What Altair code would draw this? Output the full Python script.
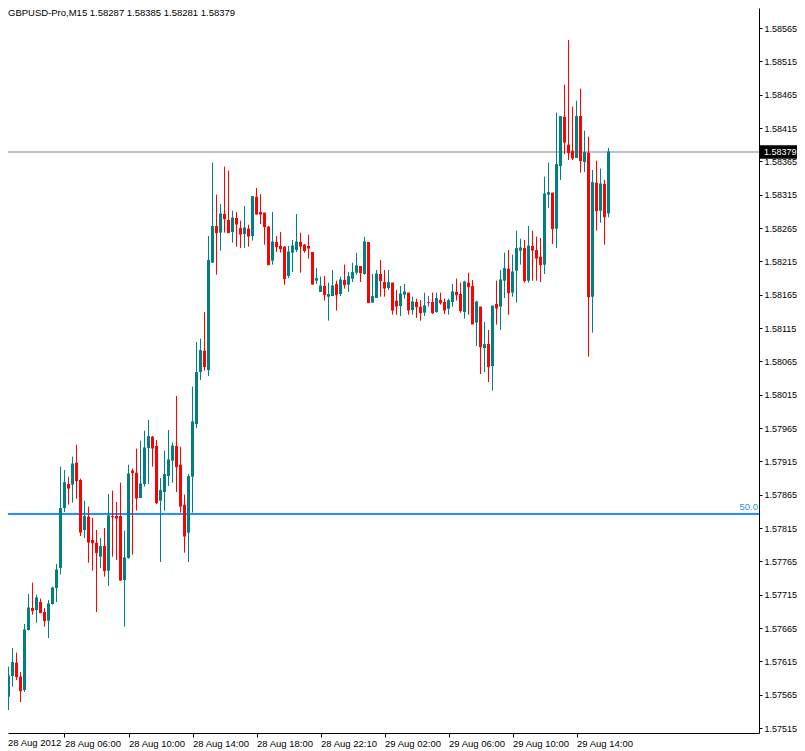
import altair as alt
import pandas as pd

# ---------------- data (M15 candles, GBPUSD) ----------------
opens = [1.57611, 1.57568, 1.57562, 1.57593, 1.57613, 1.57592, 1.57572, 1.57662, 1.57695, 1.57692,
         1.57704, 1.57689, 1.57676, 1.57701, 1.57725, 1.57755, 1.57845, 1.57881, 1.57880, 1.57913,
         1.57887, 1.57812, 1.57832, 1.57797, 1.57793, 1.57772, 1.57788, 1.57751, 1.57833, 1.57833,
         1.57833, 1.57737, 1.57770, 1.57901, 1.57898, 1.57860, 1.57881, 1.57935, 1.57952, 1.57938,
         1.57856, 1.57869, 1.57893, 1.57916, 1.57938, 1.57910, 1.57850, 1.57808, 1.57892, 1.57971,
         1.58049, 1.58081, 1.58052, 1.58213, 1.58268, 1.58258, 1.58286, 1.58277, 1.58259, 1.58280,
         1.58265, 1.58256, 1.58264, 1.58253, 1.58312, 1.58289, 1.58288, 1.58267, 1.58216, 1.58244,
         1.58238, 1.58237, 1.58193, 1.58228, 1.58232, 1.58244, 1.58240, 1.58238, 1.58229, 1.58186,
         1.58169, 1.58178, 1.58162, 1.58163, 1.58181, 1.58166, 1.58187, 1.58180, 1.58189, 1.58198,
         1.58208, 1.58196, 1.58244, 1.58153, 1.58160, 1.58196, 1.58184, 1.58175, 1.58183, 1.58156,
         1.58148, 1.58165, 1.58168, 1.58142, 1.58154, 1.58147, 1.58138, 1.58153, 1.58154, 1.58139,
         1.58157, 1.58154, 1.58144, 1.58154, 1.58169, 1.58166, 1.58139, 1.58183, 1.58178, 1.58123,
         1.58147, 1.58085, 1.58091, 1.58058, 1.58151, 1.58147, 1.58186, 1.58204, 1.58168, 1.58201,
         1.58231, 1.58235, 1.58186, 1.58238, 1.58232, 1.58222, 1.58210, 1.58315, 1.58318, 1.58264,
         1.58358, 1.58432, 1.58390, 1.58381, 1.58370, 1.58433, 1.58364, 1.58378, 1.58162, 1.58333,
         1.58291, 1.58331, 1.58287]
highs = [1.57632, 1.57592, 1.57607, 1.57635, 1.57628, 1.57599, 1.57671, 1.57716, 1.57733, 1.57715,
         1.57709, 1.57695, 1.57707, 1.57727, 1.57761, 1.57907, 1.57902, 1.57892, 1.57922, 1.57940,
         1.57889, 1.57856, 1.57847, 1.57830, 1.57812, 1.57800, 1.57815, 1.57866, 1.57871, 1.57854,
         1.57883, 1.57811, 1.57910, 1.57904, 1.57934, 1.57946, 1.57961, 1.57977, 1.57953, 1.57947,
         1.57890, 1.57931, 1.57962, 1.57943, 1.58013, 1.57937, 1.57865, 1.57896, 1.58027, 1.58094,
         1.58099, 1.58139, 1.58253, 1.58363, 1.58315, 1.58301, 1.58357, 1.58351, 1.58291, 1.58289,
         1.58276, 1.58298, 1.58270, 1.58312, 1.58325, 1.58316, 1.58288, 1.58268, 1.58289, 1.58253,
         1.58259, 1.58238, 1.58238, 1.58247, 1.58286, 1.58258, 1.58241, 1.58255, 1.58229, 1.58205,
         1.58192, 1.58193, 1.58183, 1.58202, 1.58186, 1.58192, 1.58210, 1.58199, 1.58213, 1.58228,
         1.58208, 1.58252, 1.58244, 1.58196, 1.58202, 1.58217, 1.58202, 1.58202, 1.58183, 1.58172,
         1.58178, 1.58181, 1.58168, 1.58162, 1.58159, 1.58157, 1.58168, 1.58163, 1.58168, 1.58168,
         1.58168, 1.58159, 1.58159, 1.58181, 1.58189, 1.58183, 1.58186, 1.58198, 1.58187, 1.58156,
         1.58147, 1.58124, 1.58112, 1.58148, 1.58186, 1.58202, 1.58228, 1.58232, 1.58225, 1.58261,
         1.58249, 1.58247, 1.58268, 1.58261, 1.58252, 1.58250, 1.58342, 1.58363, 1.58318, 1.58438,
         1.58432, 1.58480, 1.58547, 1.58447, 1.58456, 1.58474, 1.58411, 1.58402, 1.58352, 1.58366,
         1.58354, 1.58337, 1.58385]
lows = [1.57538, 1.57547, 1.57542, 1.57577, 1.57587, 1.57554, 1.57569, 1.57661, 1.57685, 1.57673,
        1.57688, 1.57667, 1.57650, 1.57700, 1.57704, 1.57745, 1.57839, 1.57850, 1.57853, 1.57859,
        1.57803, 1.57800, 1.57763, 1.57751, 1.57689, 1.57755, 1.57742, 1.57728, 1.57772, 1.57767,
        1.57736, 1.57667, 1.57769, 1.57775, 1.57841, 1.57860, 1.57877, 1.57881, 1.57907, 1.57851,
        1.57764, 1.57841, 1.57878, 1.57883, 1.57869, 1.57838, 1.57778, 1.57764, 1.57838, 1.57965,
        1.58037, 1.58051, 1.58043, 1.58213, 1.58195, 1.58231, 1.58258, 1.58258, 1.58243, 1.58237,
        1.58235, 1.58235, 1.58237, 1.58246, 1.58285, 1.58271, 1.58240, 1.58210, 1.58210, 1.58229,
        1.58228, 1.58180, 1.58190, 1.58199, 1.58229, 1.58198, 1.58228, 1.58219, 1.58180, 1.58181,
        1.58169, 1.58156, 1.58126, 1.58163, 1.58141, 1.58163, 1.58174, 1.58169, 1.58184, 1.58195,
        1.58184, 1.58195, 1.58153, 1.58153, 1.58160, 1.58162, 1.58162, 1.58172, 1.58135, 1.58135,
        1.58133, 1.58159, 1.58135, 1.58135, 1.58130, 1.58126, 1.58133, 1.58147, 1.58136, 1.58138,
        1.58150, 1.58136, 1.58135, 1.58147, 1.58156, 1.58138, 1.58129, 1.58135, 1.58121, 1.58088,
        1.58046, 1.58049, 1.58034, 1.58021, 1.58120, 1.58112, 1.58160, 1.58135, 1.58162, 1.58153,
        1.58210, 1.58183, 1.58183, 1.58186, 1.58186, 1.58184, 1.58196, 1.58295, 1.58241, 1.58235,
        1.58337, 1.58376, 1.58367, 1.58367, 1.58370, 1.58348, 1.58349, 1.58072, 1.58108, 1.58261,
        1.58273, 1.58240, 1.58281]
closes = [1.57568, 1.57562, 1.57593, 1.57613, 1.57592, 1.57571, 1.57662, 1.57695, 1.57691, 1.57710,
          1.57688, 1.57676, 1.57701, 1.57725, 1.57752, 1.57844, 1.57883, 1.57875, 1.57911, 1.57886,
          1.57809, 1.57832, 1.57794, 1.57793, 1.57778, 1.57787, 1.57751, 1.57833, 1.57832, 1.57830,
          1.57737, 1.57770, 1.57896, 1.57898, 1.57860, 1.57881, 1.57935, 1.57952, 1.57935, 1.57853,
          1.57871, 1.57895, 1.57917, 1.57938, 1.57907, 1.57848, 1.57803, 1.57892, 1.57974, 1.58048,
          1.58081, 1.58057, 1.58216, 1.58267, 1.58258, 1.58286, 1.58279, 1.58258, 1.58280, 1.58271,
          1.58256, 1.58265, 1.58253, 1.58312, 1.58286, 1.58286, 1.58267, 1.58210, 1.58244, 1.58237,
          1.58234, 1.58189, 1.58229, 1.58238, 1.58244, 1.58238, 1.58231, 1.58235, 1.58181, 1.58189,
          1.58178, 1.58165, 1.58165, 1.58178, 1.58165, 1.58187, 1.58180, 1.58192, 1.58198, 1.58208,
          1.58198, 1.58244, 1.58153, 1.58162, 1.58196, 1.58186, 1.58175, 1.58183, 1.58142, 1.58148,
          1.58166, 1.58169, 1.58142, 1.58154, 1.58147, 1.58138, 1.58148, 1.58153, 1.58138, 1.58159,
          1.58153, 1.58142, 1.58156, 1.58169, 1.58165, 1.58141, 1.58184, 1.58177, 1.58121, 1.58154,
          1.58087, 1.58090, 1.58057, 1.58148, 1.58145, 1.58187, 1.58204, 1.58168, 1.58199, 1.58234,
          1.58235, 1.58186, 1.58238, 1.58232, 1.58220, 1.58210, 1.58316, 1.58318, 1.58264, 1.58360,
          1.58432, 1.58394, 1.58378, 1.58370, 1.58432, 1.58366, 1.58378, 1.58162, 1.58333, 1.58291,
          1.58331, 1.58282, 1.58379]

time_tick_bars = [16, 32, 48, 64, 80, 96, 112, 128, 144]
time_tick_labels = ["28 Aug 06:00", "28 Aug 10:00", "28 Aug 14:00", "28 Aug 18:00", "28 Aug 22:10",
                    "29 Aug 02:00", "29 Aug 06:00", "29 Aug 10:00", "29 Aug 14:00"]
first_date_label = "28 Aug 2012"
price_ticks = [1.57515, 1.57565, 1.57615, 1.57665, 1.57715, 1.57765, 1.57815, 1.57865, 1.57915,
               1.57965, 1.58015, 1.58065, 1.58115, 1.58165, 1.58215, 1.58265, 1.58315, 1.58365,
               1.58415, 1.58465, 1.58515, 1.58565]
header_text = "GBPUSD-Pro,M15  1.58287 1.58385 1.58281 1.58379"
last_price = [1.58379]
fib_level = [1.57836]
fib_label = ["50.0"]

# ---------------- style ----------------
UP, DOWN, DOJI = "#008080", "#FF0000", "#8B3A8B"
FONT = "Liberation Sans"
FS = 9.5
FS_AX = 9
W, H = 751, 725
x_scale = alt.Scale(domain=[1.875, 1.875 + W / 4], nice=False, zero=False)
y_scale = alt.Scale(domain=[1.575075, 1.58595], nice=False, zero=False)

df = pd.DataFrame({"i": list(range(len(opens))), "open": opens, "high": highs,
                   "low": lows, "close": closes})
df["dir"] = ["up" if c > o else ("down" if c < o else "doji") for o, c in zip(opens, closes)]

color = alt.Color("dir:N", scale=alt.Scale(domain=["up", "down", "doji"], range=[UP, DOWN, DOJI]),
                  legend=None)

label_expr = " : ".join(f"datum.value == {v} ? '{t}'" for v, t in zip(time_tick_bars, time_tick_labels)) + " : ''"

x_axis = alt.Axis(orient="bottom", values=time_tick_bars, tickCount=40, labelExpr=label_expr, title=None,
                  grid=False, domain=True, domainColor="black", tickColor="black", tickSize=4,
                  labelAlign="left", labelBaseline="top", labelOffset=0, labelPadding=1,
                  labelFont=FONT, labelFontSize=FS, labelColor="black", labelOverlap=False,
                  labelFlush=False)
y_axis = alt.Axis(orient="right", values=price_ticks, tickCount=40, format=".5f", title=None, grid=False,
                  domain=True, domainColor="black", tickColor="black", tickSize=3, labelPadding=2,
                  labelFont=FONT, labelFontSize=FS_AX, labelColor="black", labelOverlap=False,
                  labelFlush=False)

base = alt.Chart(df)
wicks = base.mark_rule(strokeWidth=1, clip=True).encode(
    x=alt.X("i:Q", scale=x_scale, axis=x_axis),
    y=alt.Y("low:Q", scale=y_scale, axis=y_axis),
    y2="high:Q",
    color=color,
)
bodies = base.transform_calculate(xl="datum.i - 0.375", xr="datum.i + 0.375").mark_rect(clip=True).encode(
    x=alt.X("xl:Q", scale=x_scale, axis=x_axis),
    x2="xr:Q",
    y=alt.Y("open:Q", scale=y_scale, axis=y_axis),
    y2="close:Q",
    color=color,
)
body_min = base.transform_calculate(xl="datum.i - 0.375", xr="datum.i + 0.375").mark_rule(
    strokeWidth=1, clip=True).encode(
    x=alt.X("xl:Q", scale=x_scale, axis=x_axis),
    x2="xr:Q",
    y=alt.Y("close:Q", scale=y_scale, axis=y_axis),
    color=color,
)

last_df = pd.DataFrame({"p": last_price, "txt": [f"{v:.5f}" for v in last_price]})
last_line = alt.Chart(last_df).mark_rule(color="#778899", strokeWidth=1).encode(
    y=alt.Y("p:Q", scale=y_scale, axis=y_axis))
last_box = alt.Chart(last_df).transform_calculate(t="datum.p + 0.0001", b="datum.p - 0.0001").mark_rect(
    color="black").encode(
    x=alt.value(W + 1), x2=alt.value(W + 40),
    y=alt.Y("t:Q", scale=y_scale, axis=y_axis), y2="b:Q")
last_text = alt.Chart(last_df).mark_text(align="left", baseline="middle", color="white", font=FONT,
                                         fontSize=FS_AX).encode(
    x=alt.value(W + 5), y=alt.Y("p:Q", scale=y_scale, axis=y_axis), text="txt:N")

fib_df = pd.DataFrame({"p": fib_level, "lab": fib_label})
fib_line = alt.Chart(fib_df).mark_rule(color="#1E90FF", strokeWidth=2).encode(
    y=alt.Y("p:Q", scale=y_scale, axis=y_axis))
fib_text = alt.Chart(fib_df).mark_text(align="right", baseline="bottom", color="#1E90FF", font=FONT,
                                       fontSize=FS, dy=-2).encode(
    x=alt.value(W - 1), y=alt.Y("p:Q", scale=y_scale, axis=y_axis), text="lab:N")

header = alt.Chart(pd.DataFrame({"t": [header_text]})).mark_text(
    align="left", baseline="middle", font=FONT, fontSize=FS, color="black").encode(
    x=alt.value(0), y=alt.value(5), text="t:N")
first_lab = alt.Chart(pd.DataFrame({"t": [first_date_label]})).mark_text(
    align="left", baseline="top", font=FONT, fontSize=FS, color="black").encode(
    x=alt.value(0), y=alt.value(H + 5), text="t:N")

chart = alt.layer(fib_line, last_line, wicks, bodies, body_min, fib_text, last_box, last_text,
                  header, first_lab).properties(
    width=W, height=H, background="white",
    padding={"left": 0, "top": 0, "right": 789 - W, "bottom": 18},
    autosize=alt.AutoSizeParams(type="none"),
).configure_view(stroke=None)

chart.save("out.html", embed_options={"renderer": "svg", "actions": False})
